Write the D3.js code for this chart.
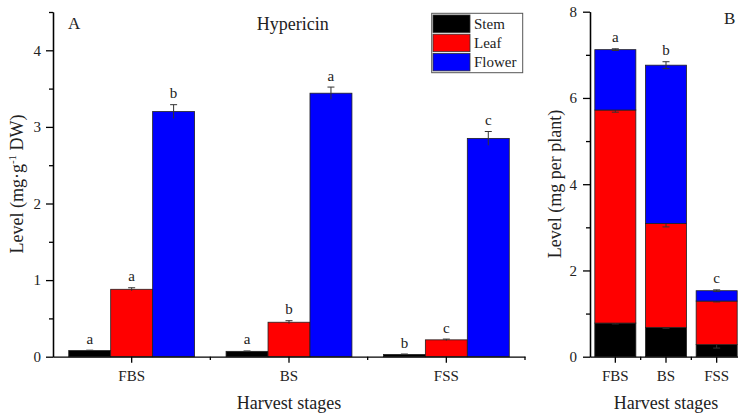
<!DOCTYPE html>
<html>
<head>
<meta charset="utf-8">
<script src="https://cdn.jsdelivr.net/npm/d3@7"></script>
<style>
body { margin: 0; background: #fff; }
svg { font-family: "Liberation Serif", "Times New Roman", serif; }
</style>
</head>
<body>
<script>
// data
var stages = ["FBS", "BS", "FSS"];
var parts = ["Stem", "Leaf", "Flower"];
var colors = ["#000000", "#ff0000", "#0000ff"];

// panel A : concentration (mg/g DW)
var stemA = [0.08, 0.07, 0.03];
var leafA = [0.88, 0.45, 0.22];
var flowerA = [3.20, 3.44, 2.85];
var stemErrA = [0.005, 0.005, 0.005];
var leafErrA = [0.02, 0.02, 0.01];
var flowerErrA = [0.09, 0.08, 0.09];
var stemLetA = ["a", "a", "b"];
var leafLetA = ["a", "b", "c"];
var flowerLetA = ["b", "a", "c"];

// panel B : amount per plant (stacked)
var stemB = [0.78, 0.68, 0.28];
var leafB = [4.94, 2.41, 1.01];
var flowerB = [1.40, 3.67, 0.24];
var stemErrB = [0.02, 0.02, 0.08];
var leafErrB = [0.05, 0.08, 0.02];
var flowerErrB = [0.02, 0.08, 0.02];
var totalLetB = ["a", "b", "c"];

var serif = "'Liberation Serif', 'Times New Roman', serif";

var svg = d3.select("body").append("svg")
    .attr("width", 738)
    .attr("height", 415);

function styleAxis(g) {
  g.selectAll("path, line").attr("stroke", "#000").attr("stroke-width", 1.3);
  g.selectAll("text")
    .style("font-family", serif)
    .style("font-size", "15px")
    .attr("fill", "#222");
}

// ---------- panel A ----------
var xA = d3.scaleBand().domain(stages).range([53, 525]);
var xA1 = d3.scaleBand().domain(parts).range([xA.bandwidth() * 0.1, xA.bandwidth() * 0.9]);
var yA = d3.scaleLinear().domain([0, 4.5]).range([356.7, 12]);

var seriesA = [
  {vals: stemA, err: stemErrA, lets: stemLetA},
  {vals: leafA, err: leafErrA, lets: leafLetA},
  {vals: flowerA, err: flowerErrA, lets: flowerLetA}
];

var gA = svg.append("g");
seriesA.forEach(function(s, k) {
  var rows = stages.map(function(st, i) { return {st: st, v: s.vals[i], e: s.err[i], l: s.lets[i]}; });
  var g = gA.append("g");
  g.selectAll("rect").data(rows).enter().append("rect")
    .attr("x", d => xA(d.st) + xA1(parts[k]))
    .attr("width", xA1.bandwidth())
    .attr("y", d => yA(d.v))
    .attr("height", d => yA(0) - yA(d.v))
    .attr("fill", colors[k])
    .attr("stroke", "#222")
    .attr("stroke-width", 0.8);
  var cx = d => xA(d.st) + xA1(parts[k]) + xA1.bandwidth() / 2;
  g.selectAll("line.err").data(rows).enter().append("line")
    .attr("x1", cx).attr("x2", cx)
    .attr("y1", d => yA(d.v + d.e)).attr("y2", d => yA(d.v - d.e))
    .attr("stroke", "#333").attr("stroke-width", 1);
  g.selectAll("line.cap").data(rows).enter().append("line")
    .attr("x1", d => cx(d) - 3.5).attr("x2", d => cx(d) + 3.5)
    .attr("y1", d => yA(d.v + d.e)).attr("y2", d => yA(d.v + d.e))
    .attr("stroke", "#333").attr("stroke-width", 1);
  g.selectAll("text").data(rows).enter().append("text")
    .attr("x", cx)
    .attr("y", d => yA(d.v + d.e) - 6.5)
    .attr("text-anchor", "middle")
    .style("font-size", "15px")
    .attr("fill", "#222")
    .text(d => d.l);
});

svg.append("g")
    .attr("transform", "translate(53,0)")
    .call(d3.axisLeft(yA).tickValues([0, 1, 2, 3, 4]).tickFormat(d3.format("d")).tickSize(7).tickSizeOuter(0).tickPadding(5))
    .call(styleAxis);
svg.append("g")
    .attr("transform", "translate(53,0)")
    .call(d3.axisLeft(yA).tickValues([0.5, 1.5, 2.5, 3.5, 4.5]).tickFormat("").tickSize(4).tickSizeOuter(0))
    .call(styleAxis);

svg.append("g")
    .attr("transform", "translate(0,356.7)")
    .call(d3.axisBottom(xA).tickSize(6).tickSizeOuter(0).tickPadding(8))
    .call(styleAxis);
svg.append("g")
    .selectAll("line").data(stages).enter().append("line")
    .attr("x1", d => xA(d) + xA.bandwidth())
    .attr("x2", d => xA(d) + xA.bandwidth())
    .attr("y1", 356.7).attr("y2", 360)
    .attr("stroke", "#000").attr("stroke-width", 1.3);

svg.append("text")
    .attr("transform", "translate(23,184) rotate(-90)")
    .attr("text-anchor", "middle")
    .style("font-size", "18px")
    .attr("fill", "#222")
    .call(function(t) {
      t.append("tspan").text("Level (mg\u00b7g");
      t.append("tspan").attr("dy", -7).style("font-size", "11px").text("-1");
      t.append("tspan").attr("dy", 7).text(" DW)");
    });

svg.append("text")
    .attr("x", 289).attr("y", 409)
    .attr("text-anchor", "middle")
    .style("font-size", "18px")
    .attr("fill", "#222")
    .text("Harvest stages");

svg.append("text").attr("x", 68).attr("y", 29)
    .style("font-size", "17px").attr("fill", "#222").text("A");
svg.append("text").attr("x", 256.7).attr("y", 30)
    .style("font-size", "18px").attr("fill", "#222").text("Hypericin");

// legend
var leg = svg.append("g");
leg.append("rect")
    .attr("x", 431.7).attr("y", 13.3).attr("width", 91).attr("height", 59.4)
    .attr("fill", "#fff").attr("stroke", "#555").attr("stroke-width", 1);
parts.forEach(function(p, i) {
  leg.append("rect")
    .attr("x", 433).attr("y", 15 + i * 19.2).attr("width", 37).attr("height", 17.5)
    .attr("fill", colors[i]).attr("stroke", "#333").attr("stroke-width", 0.8);
  leg.append("text")
    .attr("x", 474).attr("y", 29 + i * 19.2)
    .style("font-size", "15px").attr("fill", "#222").text(p);
});

// ---------- panel B ----------
var xB = d3.scaleBand().domain(stages).range([590, 742]);
var yB = d3.scaleLinear().domain([0, 8]).range([356.7, 11.7]);
var bwB = xB.bandwidth() * 0.81;

var stackRows = stages.map(function(st, i) {
  return {st: st, Stem: stemB[i], Leaf: leafB[i], Flower: flowerB[i]};
});
var stacked = d3.stack().keys(parts)(stackRows);
var errB = [stemErrB, leafErrB, flowerErrB];

stacked.forEach(function(layer, k) {
  var g = svg.append("g");
  g.selectAll("rect").data(layer).enter().append("rect")
    .attr("x", d => xB(d.data.st) + (xB.bandwidth() - bwB) / 2)
    .attr("width", bwB)
    .attr("y", d => yB(d[1]))
    .attr("height", d => yB(d[0]) - yB(d[1]))
    .attr("fill", colors[k])
    .attr("stroke", "#222")
    .attr("stroke-width", 0.8);
  var cx = d => xB(d.data.st) + xB.bandwidth() / 2;
  g.selectAll("line.err").data(layer).enter().append("line")
    .attr("x1", cx).attr("x2", cx)
    .attr("y1", (d, i) => yB(d[1] + errB[k][i])).attr("y2", (d, i) => yB(d[1] - errB[k][i]))
    .attr("stroke", "#333").attr("stroke-width", 1);
  g.selectAll("line.cap").data(layer).enter().append("line")
    .attr("x1", d => cx(d) - 3.5).attr("x2", d => cx(d) + 3.5)
    .attr("y1", (d, i) => yB(d[1] + errB[k][i])).attr("y2", (d, i) => yB(d[1] + errB[k][i]))
    .attr("stroke", "#333").attr("stroke-width", 1);
  g.selectAll("line.cap2").data(layer).enter().append("line")
    .attr("x1", d => cx(d) - 3.5).attr("x2", d => cx(d) + 3.5)
    .attr("y1", (d, i) => yB(d[1] - errB[k][i])).attr("y2", (d, i) => yB(d[1] - errB[k][i]))
    .attr("stroke", "#333").attr("stroke-width", 1);
});

var topLayer = stacked[2];
svg.append("g").selectAll("text").data(topLayer).enter().append("text")
    .attr("x", d => xB(d.data.st) + xB.bandwidth() / 2)
    .attr("y", (d, i) => yB(d[1] + flowerErrB[i]) - 7)
    .attr("text-anchor", "middle")
    .style("font-size", "15px")
    .attr("fill", "#222")
    .text((d, i) => totalLetB[i]);

svg.append("g")
    .attr("transform", "translate(590,0)")
    .call(d3.axisLeft(yB).tickValues([0, 2, 4, 6, 8]).tickFormat(d3.format("d")).tickSize(7).tickSizeOuter(0).tickPadding(6))
    .call(styleAxis);
svg.append("g")
    .attr("transform", "translate(590,0)")
    .call(d3.axisLeft(yB).tickValues([1, 3, 5, 7]).tickFormat("").tickSize(4).tickSizeOuter(0))
    .call(styleAxis);
svg.append("g")
    .attr("transform", "translate(0,356.7)")
    .call(d3.axisBottom(xB).tickSize(6).tickSizeOuter(0).tickPadding(8))
    .call(styleAxis);
svg.append("g")
    .selectAll("line").data(stages).enter().append("line")
    .attr("x1", d => xB(d) + xB.bandwidth())
    .attr("x2", d => xB(d) + xB.bandwidth())
    .attr("y1", 356.7).attr("y2", 360)
    .attr("stroke", "#000").attr("stroke-width", 1.3);

svg.append("text")
    .attr("transform", "translate(561,184) rotate(-90)")
    .attr("text-anchor", "middle")
    .style("font-size", "18px")
    .attr("fill", "#222")
    .text("Level (mg per plant)");

svg.append("text")
    .attr("x", 666).attr("y", 409)
    .attr("text-anchor", "middle")
    .style("font-size", "18px")
    .attr("fill", "#222")
    .text("Harvest stages");

svg.append("text").attr("x", 724).attr("y", 24)
    .style("font-size", "17px").attr("fill", "#222").text("B");
</script>
</body>
</html>
